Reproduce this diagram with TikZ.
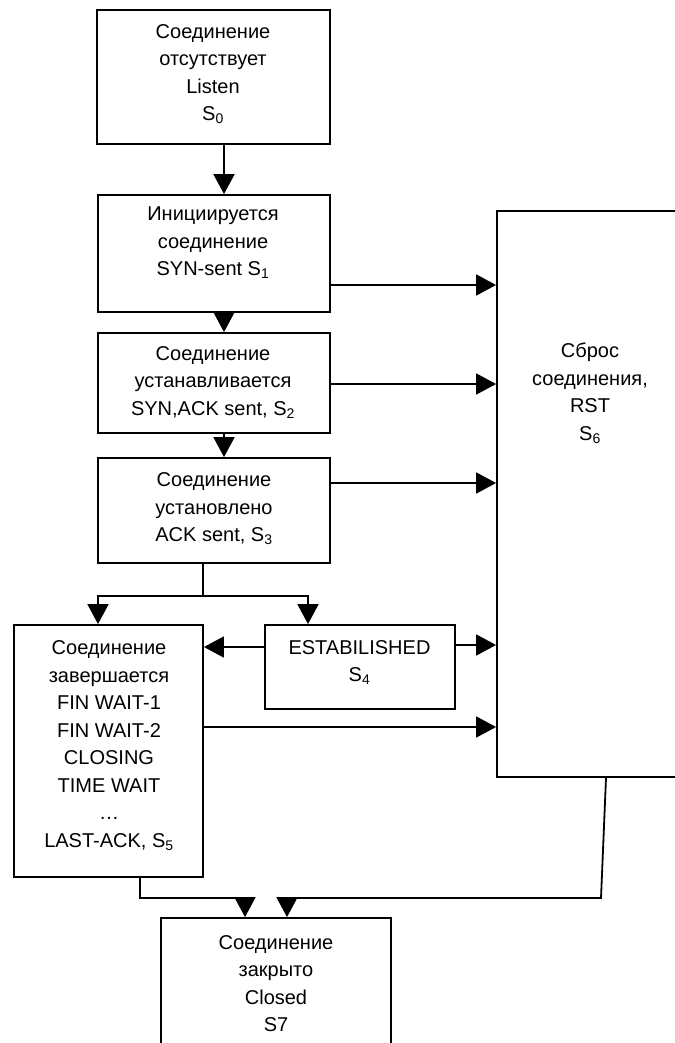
\documentclass[tikz,border=0pt]{standalone}
\usepackage{fontspec}
\setmainfont{Liberation Sans}
\usetikzlibrary{arrows.meta}
\begin{document}
\begin{tikzpicture}[x=1pt,y=-1pt,
  box/.style={draw, line width=1.8pt, inner sep=0pt},
  txt/.style={align=center, font=\fontsize{20}{27.5}\selectfont, inner sep=0pt},
  arr/.style={line width=1.8pt, -{Triangle[length=20pt,width=21pt]}},
  ln/.style={line width=1.8pt}]
\useasboundingbox (0,0) rectangle (674,1043);
% boxes
\node[box, minimum width=233pt, minimum height=134pt] (b0) at (213.5,77) {};
\node[box, minimum width=232pt, minimum height=117pt] (b1) at (214,253.5) {};
\node[box, minimum width=232pt, minimum height=100pt] (b2) at (214,383) {};
\node[box, minimum width=232pt, minimum height=105pt] (b3) at (214,510.5) {};
\node[box, minimum width=190pt, minimum height=84pt] (b4) at (360,667) {};
\node[box, minimum width=189pt, minimum height=252pt] (b5) at (108.5,751) {};
\node[box, minimum width=186pt, minimum height=566pt] (b6) at (590,494) {};
\node[box, minimum width=230pt, minimum height=132pt] (b7) at (276,984) {};
% texts
\node[txt] (t0) at (213,74) {Соединение\\отсутствует\\Listen\\S\textsubscript{0}};
\node[txt] (t1) at (213,243) {Инициируется\\соединение\\SYN-sent S\textsubscript{1}};
\node[txt] (t2) at (213,382.5) {Соединение\\устанавливается\\SYN,ACK sent, S\textsubscript{2}};
\node[txt] (t3) at (214,509) {Соединение\\установлено\\ACK sent, S\textsubscript{3}};
\node[txt] (t4) at (359.5,662.5) {ESTABILISHED\\S\textsubscript{4}};
\node[txt] (t5) at (109,745.5) {Соединение\\завершается\\FIN WAIT-1\\FIN WAIT-2\\CLOSING\\TIME WAIT\\…\\LAST-ACK, S\textsubscript{5}};
\node[txt] (t6) at (590,393.5) {Сброс\\соединения,\\RST\\S\textsubscript{6}};
\node[txt] (t7) at (276,983.5) {Соединение\\закрыто\\Closed\\S7};
% junctions
\coordinate (j3) at (203,596);
\coordinate (j5) at (140,898);
\coordinate (j6) at (601,898);
% vertical chain
\draw[arr] ([xshift=10.5]b0.south) -- ([xshift=10.5]b0.south |- b1.north);
\draw[arr] ([xshift=10]b1.south) -- ([xshift=10]b1.south |- b2.north);
\draw[arr] ([xshift=10]b2.south) -- ([xshift=10]b2.south |- b3.north);
% to reset
\draw[arr] ([yshift=-31.5]b1.east) -- ([yshift=-31.5]b1.east -| b6.west);
\draw[arr] ([yshift=-1]b2.east) -- ([yshift=-1]b2.east -| b6.west);
\draw[arr] ([yshift=27.5]b3.east) -- ([yshift=27.5]b3.east -| b6.west);
\draw[arr] ([yshift=22]b4.east) -- ([yshift=22]b4.east -| b6.west);
\draw[arr] ([yshift=24]b5.east) -- ([yshift=24]b5.east -| b6.west);
% split from b3
\draw[ln] ([xshift=-11]b3.south) -- (j3);
\draw[arr] (j3) -| ([xshift=-10.5]b5.north);
\draw[arr] (j3) -| ([xshift=-52]b4.north);
% b4 to b5
\draw[arr] ([yshift=20]b4.west) -- ([yshift=20]b4.west -| b5.east);
% to closed
\draw[arr] ([xshift=31.5]b5.south) -- (j5) -| ([xshift=-31]b7.north);
\draw[arr] ([xshift=16]b6.south) -- (j6) -| ([xshift=11]b7.north);
\end{tikzpicture}
\end{document}
